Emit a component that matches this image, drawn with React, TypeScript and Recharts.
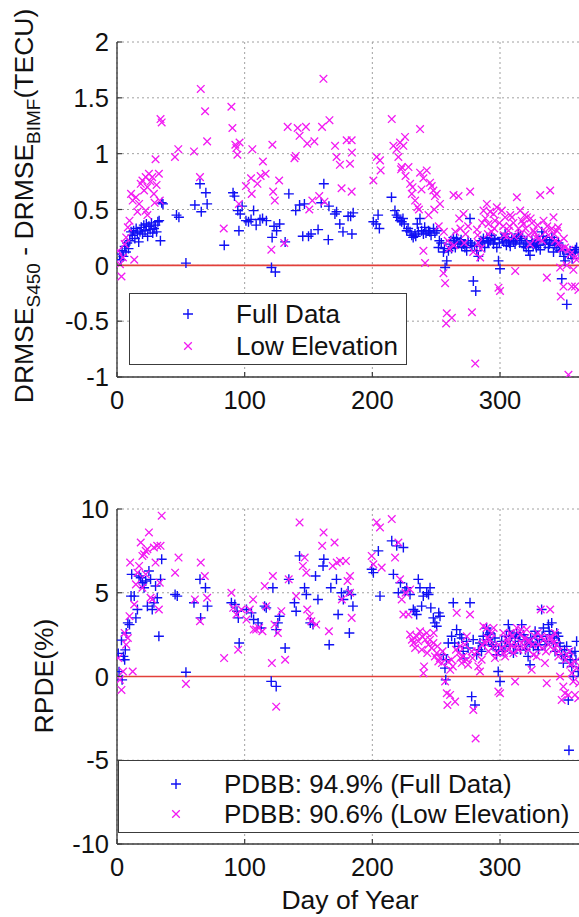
import React from 'react';
import { ScatterChart, Scatter, XAxis, YAxis, CartesianGrid, ReferenceLine, Legend } from 'recharts';

// ---------- data ----------
const dayTicks = [0, 100, 200, 300];
const topYTicks = [-1, -0.5, 0, 0.5, 1, 1.5, 2];
const bottomYTicks = [-10, -5, 0, 5, 10];
const topLegendLabels = ['Full Data', 'Low Elevation'];
const bottomLegendLabels = ['PDBB: 94.9% (Full Data)', 'PDBB: 90.6% (Low Elevation)'];

// [day, DRMSE difference (TECU)]
const topFullData: number[][] = [
  [2,0.10],[3,0.05],[4,0.13],[5,0.08],[6,0.17],[7,0.12],[8,0.2],[9,0.15],[10,0.22],[11,0.3],[12,0.27],[13,0.31],[14,0.24],[15,0.33],[16,0.29],[17,0.21],[18,0.3],[19,0.34],[20,0.28],[21,0.36],[22,0.31],[23,0.37],[24,0.26],[25,0.35],[26,0.32],[27,0.38],[28,0.29],[29,0.33],[30,0.36],[31,0.3],[32,0.39],[33,0.4],[34,0.22],[35,0.56],[36,0.55],
  [46.6,0.45],[48.5,0.43],[54,0.02],[61,0.54],[65,0.73],[66,0.48],[69.6,0.65],[70.6,0.55],[84,0.18],[90.9,0.65],[92,0.62],[94.6,0.49],[95.5,0.31],[98,0.53],[96.5,0.46],[101,0.40],[103,0.39],[105,0.41],[107,0.49],[109,0.36],[112,0.41],[114,0.42],[117,0.40],[121,-0.02],[124,-0.06],[121.5,0.25],[123,0.35],[125,0.31],[127.4,0.37],[131.7,0.21],[134.6,0.64],[140,0.49],[143,0.54],[146.8,0.55],[145.5,0.26],[152,0.28],[150,0.26],[157.5,0.32],[162,0.73],[160,0.56],[166,0.53],[165.5,0.23],[170.7,0.46],[172,0.48],[174.5,0.37],[177,0.30],[181,0.44],[183,0.44],[184,0.28],[185,0.47],
  [200.8,0.39],[203,0.37],[204.5,0.45],[205.5,0.33],[215,0.61],[217.7,0.49],[219,0.45],[220,0.43],[221.7,0.40],[223,0.39],[224,0.42],[225,0.37],[226.9,0.31],[228,0.33],[229.5,0.30],[230.9,0.27],[232,0.25],[233.4,0.28],[234,0.26],[235.2,0.37],[236,0.30],[237.3,0.42],[238.6,0.31],[240,0.28],[241,0.34],[242,0.29],[243.9,0.31],[245,0.30],[246,0.27],[247.9,0.33],[249,0.29],[250.5,0.31],[251.8,0.16],[252.5,0.22],[254,0.2],[255.7,0.12],[256.5,0.15],[257,-0.02],[258.3,0.04],[259.6,0.13],[260.9,0.19],[261.5,0.22],[262,0.15],[263.5,0.25],[264.5,0.2],[265,0.16],[266,0.24],[267,0.19],[268.7,0.21],[269.5,0.23],[270,0.17],[271.3,0.19],[272.5,0.16],[273.9,0.13],[275,0.22],[276.5,0.42],[277,0.2],[278,0.18],[279.1,-0.14],[280,0.17],[281,-0.23],[281.8,0.13],[283,0.08],[284.4,0.19],[285,0.22],[286,0.21],[287,0.24],[288,0.16],[289.7,0.25],[290.5,0.21],[291,0.2],[292.3,0.22],[293.5,0.27],[294.9,0.19],[295.5,0.24],[296,0.23],[297.5,0.16],[298.8,0.04],[299.5,0.2],[300,-0.03],[301.5,0.25],[302,0.23],[303,0.21],[304,0.28],[305,0.18],[306.6,0.22],[307.5,0.2],[308,0.17],[309.2,0.25],[310.5,0.21],[311.8,0.19],[312.5,0.22],[313,0.24],[314.4,0.28],[315.5,0.2],[316,0.26],[317,0.24],[318.5,0.17],[319.7,0.19],[320.5,0.16],[321,0.22],[322.3,0.13],[323.5,0.09],[324.9,0.22],[325.5,0.2],[326,0.17],[327.5,0.19],[328.5,0.16],[329,0.21],[330.1,0.18],[331.5,0.14],[332.7,0.30],[333.5,0.26],[334,0.22],[335.3,0.19],[336.5,0.23],[337.9,0.16],[338.5,0.19],[339,0.2],[340.6,0.25],[341.9,0.12],[342.5,0.22],[343,0.18],[344.5,0.16],[345.8,0.2],[346.5,0.18],[347.1,0.13],[348.4,-0.12],[349,0.14],[350,0.08],[351,0.04],[352.3,-0.35],[353.5,0.1],[354.9,0.13],[355.5,0.1],[356.5,0.06],[358,0.11],[359,0.14],[360,0.16],[362,0.12]
];

const topLowData: number[][] = [
  [1,0.13],[2.3,0.01],[3.5,-0.10],[4.7,0.07],[6,0.19],[7.2,0.25],[8.5,0.34],[9.8,0.40],[11,0.64],[12.3,0.58],[13.5,0.05],[14.8,0.61],[16,0.48],[17.3,0.55],[18.6,0.73],[19.9,0.76],[21.2,0.67],[22.5,0.79],[22.5,0.49],[23.8,0.70],[23.8,0.45],[25,0.82],[26.3,0.75],[27.6,0.79],[28.9,0.64],[29.5,0.56],[30.2,0.95],[31,0.72],[32.8,0.82],[34.1,1.31],[35,1.28],[33.5,0.58],
  [45.4,0.97],[48,1.04],[60.3,1.02],[65,0.79],[65.6,1.58],[69,1.38],[70.6,1.11],[83.6,0.33],[89.6,1.42],[90.4,1.23],[92.7,1.08],[93.5,1.05],[94.3,0.99],[96,1.1],[95.5,0.55],[101,0.71],[105,0.78],[106,1.04],[105.5,0.64],[110,0.73],[112.5,0.8],[114.3,0.93],[116.4,0.82],[120.9,0.14],[121.7,1.08],[122.3,0.66],[123.6,0.58],[127,0.76],[131,0.2],[133.7,1.24],[139,0.96],[140,0.98],[141.5,1.23],[143,1.16],[148,1.24],[149,1.09],[154.6,1.11],[161.7,1.67],[160.6,1.24],[166.4,1.30],[153,0.58],[150.6,0.5],[158.4,0.62],[162.5,0.57],
  [170.8,1.07],[172,0.97],[174.6,0.90],[179.9,1.12],[183.8,1.12],[182.5,0.91],[184,1.01],[175.9,0.69],[183.8,0.66],[200.8,0.76],[203.4,0.97],[206,0.94],[206.5,0.85],[215.2,1.31],[216.5,1.07],[219.1,1.04],[220.4,0.97],[221.7,1.10],[222.5,0.86],[224.3,1.07],[225.6,1.15],[223,0.88],[226,0.8],[228.3,0.88],[229.6,0.73],[230.9,0.64],[231.5,0.7],[233.5,0.58],[235.3,0.52],[236.5,0.5],[237.4,1.22],[237.4,0.83],[238.5,0.68],[240,0.78],[242.6,0.85],[244,0.45],[245.2,0.74],[246.5,0.71],[247.8,0.67],[248.5,0.5],[249,0.62],[250.4,0.64],[252,0.35],[253,0.55],[240,0.13],[241.3,0.02],[255.7,-0.07],[256,0.3],[257,-0.16],[258.3,-0.43],[257.8,-0.52],[259,0.22],[262.3,-0.47],[260,0.15],[263.6,0.63],[264,0.18],[265,0.3],[267.5,0.62],[268,0.42],[269,0.33],[271.4,0.46],[272,0.2],[273,0.28],[275,0.35],[276.6,0.66],[278,-0.42],[279,0.12],[280.6,-0.88],[281.9,0.32],[282.5,0.27],[283,0.2],[284.5,0.07],[285,0.15],[286,0.38],[287.1,0.49],[288.5,0.42],[289.7,0.55],[290.5,0.28],[291,0.37],[292.3,0.48],[293.5,0.3],[294.9,0.46],[295.5,0.33],[296,0.4],[297.5,0.52],[298.8,-0.2],[299.5,0.38],[300,-0.23],[301.4,0.49],[302.5,0.35],[303,0.27],[304,0.43],[305.5,0.26],[306.7,0.31],[307.5,0.35],[308,0.45],[309.3,0.43],[310.5,0.38],[311,0.26],[311.9,-0.05],[313.2,0.61],[314.5,0.33],[315.8,0.49],[316.5,0.28],[317,0.4],[318.4,0.37],[319.5,0.45],[320,0.33],[321,0.43],[322.3,0.27],[323.6,0.19],[324,0.42],[325,0.38],[326.3,0.31],[327,0.29],[328,0.25],[329.5,0.36],[330.5,0.24],[331.5,0.63],[333,0.22],[334.1,0.40],[335.5,0.3],[336.7,-0.11],[337,0.35],[338,0.27],[339.3,0.67],[340.5,0.33],[341.9,0.43],[342.5,0.28],[343.2,0.22],[344.5,0.31],[345.5,0.34],[346,0.2],[347.1,-0.02],[347.6,-0.28],[348.5,0.15],[349.7,-0.19],[350,0.24],[351,0.16],[352.3,0.0],[353.6,-0.98],[354,0.14],[355,0.1],[356.2,-0.19],[357.5,-0.04],[358.8,-0.19],[359.5,0.08],[360,0.05],[361.4,-0.22]
];

// [day, RPDE (%)]
const bottomFullData: number[][] = [
  [1,1.38],[1.6,0.29],[3.5,2.17],[4,-0.2],[5,1.2],[6,1.0],[6.5,1.59],[7.2,2.6],[8.5,3.2],[9.8,3.1],[11,4.8],[11.5,6.1],[13.5,4.8],[14.8,3.5],[16,4.0],[17.3,6.0],[18.6,5.9],[19.9,5.6],[21.2,5.3],[22.5,5.7],[23.8,4.2],[25,6.3],[26.3,5.8],[27.6,4.0],[28.9,4.4],[30.2,5.4],[31.5,4.7],[32.8,2.4],[34.1,5.8],[35,7.0],
  [45.5,4.9],[47.2,4.8],[54,0.25],[60.3,4.4],[65,5.8],[65.5,3.5],[69.3,5.3],[70.9,4.2],[89.6,4.4],[92.3,4.3],[94,3.9],[95,3.5],[95.7,2.0],[101.4,4.0],[105.3,3.8],[107,3.4],[110.5,3.2],[113,2.9],[115.6,4.2],[116.9,4.1],[120.8,-0.29],[124.7,-0.59],[122.1,5.3],[124.7,2.8],[126,3.2],[127.3,3.6],[131.7,1.7],[134.6,5.8],[139,4.4],[140.3,3.9],[143,7.2],[146.9,5.3],[148.3,4.9],[151.4,3.2],[153.5,3.1],[157.4,4.6],[155.5,6.0],[161.4,6.6],[162,7.0],[166.2,1.9],[167.5,5.3],[171.9,5.8],[173.2,3.7],[175.8,5.0],[177.3,4.6],[181,5.1],[182,2.6],[183.5,4.9],[184.8,4.2],
  [199.5,6.4],[200.8,6.2],[204.7,7.5],[206,4.8],[215.2,8.1],[216.5,6.1],[219.1,7.8],[220.4,5.0],[222,5.6],[224.3,7.7],[225.6,5.1],[226.9,5.3],[229.5,4.9],[232.1,4.0],[233.4,3.9],[234.7,3.7],[236,5.8],[237.3,5.3],[238.6,4.2],[239.9,4.8],[242.6,5.0],[244,4.9],[245.2,5.3],[245.8,4.1],[247.8,3.5],[249,3.2],[250.4,3.0],[252,3.8],[253,3.6],[255.6,1.3],[256.9,0.5],[257.5,-0.2],[258,1.0],[259.5,2.0],[262.1,2.4],[263.4,4.4],[264.5,2.0],[266,2.8],[267.5,1.8],[268.6,2.5],[270,2.3],[271.2,1.5],[272,1.1],[273.8,2.1],[275,1.7],[276.5,4.4],[277.8,-1.2],[279,2.2],[280.4,-1.7],[281.7,1.3],[283,1.6],[284.3,2.0],[285.5,1.5],[286.9,2.4],[288,1.9],[289.5,2.9],[290.5,2.5],[291,2.2],[292.1,2.6],[293.5,1.9],[294.7,1.8],[296,2.3],[297.3,1.3],[298.6,0.3],[299,1.6],[300,-0.3],[301.3,2.1],[302.5,1.5],[303.9,1.8],[304.5,2.1],[305,2.4],[306.5,3.1],[307.5,2.7],[308,1.9],[309.1,2.4],[310.5,1.4],[311.8,1.8],[312,2.3],[313,2.6],[314.4,2.1],[315.5,2.5],[316,1.6],[317,3.1],[318.5,2.5],[319.6,2.2],[320,1.6],[321,1.9],[322,1.2],[323.5,0.7],[324,2.3],[325,2.0],[326.1,1.8],[327.5,2.7],[328.7,2.4],[329.5,1.9],[330,1.6],[331,2.2],[332.6,4.0],[333,2.4],[334,2.9],[335.3,1.9],[336.6,2.1],[337.9,3.1],[338.5,2.7],[339,2.5],[340.5,3.2],[341.8,2.0],[342.5,2.3],[343.1,1.5],[344.4,2.6],[345.7,2.4],[346.5,2.0],[347,1.8],[348.3,1.3],[349.6,0.8],[350.5,1.6],[351,1.2],[352.2,1.8],[353.5,-1.4],[354,-4.4],[355,1.0],[356,1.4],[356.2,0.6],[357.4,0.0],[358.7,1.5],[359.5,1.0],[360,2.1],[361.3,0.3]
];

const bottomLowData: number[][] = [
  [1,1.1],[2.3,-0.2],[3.5,-0.8],[4.7,0.3],[6,2.6],[7.2,1.9],[8.5,2.3],[9.8,3.6],[10.3,6.8],[12.3,0.3],[13.5,4.3],[14.8,5.5],[16,6.2],[17.3,6.6],[18.6,8.0],[19.9,7.2],[19.9,5.3],[21.2,7.3],[22.5,7.5],[22.5,6.1],[23.8,7.6],[25,8.6],[26.3,4.7],[27.6,4.6],[28.9,7.7],[30.2,6.8],[31.5,7.8],[32.8,4.0],[33.5,5.6],[34.1,7.8],[35,9.6],
  [45.5,6.2],[48.2,7.1],[54,-0.44],[61,4.6],[65,3.3],[65.6,6.8],[68.8,6.0],[70.6,4.7],[83.9,1.1],[89.6,5.0],[91,4.1],[93.5,3.7],[94.9,1.6],[97.5,4.0],[101.4,3.4],[104,4.0],[106.6,4.6],[107.1,2.8],[109,2.8],[111.3,2.9],[113.9,2.7],[115.7,5.4],[117,4.2],[121.3,0.8],[122.1,6.0],[123.4,3.1],[124.7,-1.8],[126,2.6],[128.7,3.9],[131.7,1.0],[134.5,5.8],[140.3,4.8],[143,9.2],[145.6,6.6],[147,7.1],[148.3,6.2],[149,4.0],[150.9,3.6],[152.2,3.3],[156,3.1],[160.7,7.8],[161.8,8.6],[166,2.7],[170.4,8.0],[169,6.6],[172.1,6.8],[174.7,6.9],[176.1,4.6],[179.3,6.9],[180.6,5.7],[182.5,6.0],[183.8,3.5],[182.5,5.0],
  [199.5,7.2],[200.8,6.7],[203.4,9.2],[206,8.9],[207.3,6.5],[215.2,9.4],[217.8,7.1],[220.4,8.0],[221.7,5.8],[223,4.6],[224.3,3.7],[226,5.0],[228.3,3.7],[229.6,5.2],[229.6,2.5],[231,2.2],[232.2,2.0],[233.5,1.7],[234.8,2.4],[236,2.1],[237.4,2.7],[238.7,1.6],[239,2.4],[240,0.2],[240.5,0.6],[241.5,2.2],[242.6,2.6],[243,1.4],[244,1.9],[245.2,2.2],[246.5,1.7],[247.8,2.0],[248,2.6],[249,1.2],[250.4,1.4],[251,1.8],[251.7,0.9],[253,1.1],[254.5,0.8],[255,1.5],[257,-0.3],[258.3,-1.0],[258.8,-1.7],[259.5,0.9],[260.9,-1.1],[261,0.4],[262,1.0],[263,0.6],[264.8,-1.5],[265.5,1.6],[266.1,3.8],[267.5,1.4],[268.7,1.8],[269,1.1],[270,0.8],[271.3,1.2],[272.5,1.9],[273.9,1.0],[274,2.4],[275,0.7],[276.5,3.7],[277.8,1.5],[278.5,1.1],[279.1,-2.0],[280.9,-3.7],[282,1.5],[283,0.6],[284.3,0.3],[285.6,1.0],[286,1.9],[287,3.0],[288.3,2.0],[289.6,2.9],[290,2.3],[291,1.5],[292.2,2.2],[293.5,2.6],[294.8,1.8],[295,2.9],[296,1.1],[297.4,1.4],[298.7,-0.9],[299,1.9],[300,-1.0],[301.3,1.7],[302.6,2.6],[303,1.4],[304,1.2],[305.3,2.2],[306,2.0],[306.5,1.6],[307.9,2.6],[309,1.9],[309.5,2.4],[310.5,1.4],[311.8,-0.3],[312.5,1.9],[313.1,2.9],[314.4,1.6],[315.7,2.5],[316.5,2.8],[317,2.0],[318.3,1.7],[319.6,2.3],[320.9,2.8],[321.5,2.1],[322.2,1.6],[323.5,2.1],[324.8,0.4],[325.5,1.9],[326.1,1.3],[327.4,2.4],[328.7,1.2],[329.5,2.6],[330,1.9],[331.9,4.0],[332.5,2.4],[333,1.7],[334.2,2.2],[335.2,0.8],[336,1.5],[336.6,-0.4],[337.9,1.9],[338.5,2.3],[339.3,4.0],[340.5,2.3],[341.8,1.6],[342,2.0],[343,2.6],[344.4,1.9],[345.7,1.2],[346,1.5],[347,0],[348.3,-1.4],[349.6,-0.6],[350.9,-1.0],[351.5,1.0],[352.2,1.3],[353.5,-1.1],[354.5,1.5],[355,0.7],[356.2,0.2],[357.4,-0.3],[358.7,-1.1],[359,0.9],[360,0.5],[361.3,-1.3],[362,-0.4]
];

// ---------- styling ----------
const FONT = '"Liberation Sans", Arial, Helvetica, sans-serif';
const BLUE = '#1010f4';
const MAGENTA = '#f21af2';
const RED = '#e2403a';
const AXIS = '#3c3c3c';
const GRID = '#a0a0a0';
const TEXT = '#111111';

const toPts = (arr: number[][]) => arr.map(([day, v]) => ({ day, v }));

const PlusShape = (props: any) => {
  const { cx, cy } = props;
  if (cx == null || cy == null) return null;
  const r = 5;
  return <path d={`M${cx - r},${cy}H${cx + r}M${cx},${cy - r}V${cy + r}`} stroke={BLUE} strokeWidth={1.4} fill="none" />;
};
const CrossShape = (props: any) => {
  const { cx, cy } = props;
  if (cx == null || cy == null) return null;
  const r = 3.8;
  return <path d={`M${cx - r},${cy - r}L${cx + r},${cy + r}M${cx - r},${cy + r}L${cx + r},${cy - r}`} stroke={MAGENTA} strokeWidth={1.3} fill="none" />;
};

const YTick = (props: any) => {
  const { x, y, payload } = props;
  return (
    <g>
      <line x1={x} x2={x + 5} y1={y} y2={y} stroke={AXIS} strokeWidth={1.2} />
      <text x={x - 8} y={y} dy="0.36em" textAnchor="end" fontSize={25.5} fontFamily={FONT} fill={TEXT}>{String(payload.value)}</text>
    </g>
  );
};
const XTickBottom = (props: any) => {
  const { x, y, payload } = props;
  return (
    <g>
      <line x1={x} x2={x} y1={y} y2={y - 5} stroke={AXIS} strokeWidth={1.2} />
      <text x={x} y={y + 32} textAnchor="middle" fontSize={25.5} fontFamily={FONT} fill={TEXT}>{String(payload.value)}</text>
    </g>
  );
};
const XTickTop = (props: any) => {
  const { x, y } = props;
  return <line x1={x} x2={x} y1={y} y2={y + 5} stroke={AXIS} strokeWidth={1.2} />;
};

const LegendBox = ({ labels, width, height, markerX, textX, rowY }: any) => (
  <div style={{ width, height, boxSizing: 'border-box', border: `1.4px solid ${AXIS}`, background: '#fff', position: 'relative', fontFamily: FONT, fontSize: 26, color: TEXT }}>
    {labels.map((lab: string, i: number) => (
      <div key={lab} style={{ position: 'absolute', left: 0, top: rowY[i] - 15, height: 30, width: '100%' }}>
        <svg width={20} height={30} style={{ position: 'absolute', left: markerX - 10, top: 0 }}>
          {i === 0 ? <PlusShape cx={10} cy={15} /> : <CrossShape cx={10} cy={15} />}
        </svg>
        <span style={{ position: 'absolute', left: textX, top: 0, lineHeight: '30px', whiteSpace: 'nowrap' }}>{lab}</span>
      </div>
    ))}
  </div>
);

const TopYLabel = () => (
  <text x={33} y={206} transform="rotate(-90, 33, 206)" textAnchor="middle" fontSize={26.5} fontFamily={FONT} fill={TEXT} style={{ whiteSpace: 'pre' }}>
    DRMSE<tspan fontSize={19} dy={7}>S450</tspan><tspan dy={-7}> - DRMSE</tspan><tspan fontSize={19} dy={7}>BIMF</tspan><tspan dy={-7}>(TECU)</tspan>
  </text>
);
const BottomYLabel = () => (
  <text x={53} y={216} transform="rotate(-90, 53, 216)" textAnchor="middle" fontSize={26.5} fontFamily={FONT} fill={TEXT}>RPDE(%)</text>
);
const BottomXLabel = () => (
  <text x={350} y={449} textAnchor="middle" fontSize={26.5} fontFamily={FONT} fill={TEXT}>Day of Year</text>
);

export default function App() {
  const topFull = toPts(topFullData);
  const topLow = toPts(topLowData);
  const botFull = toPts(bottomFullData);
  const botLow = toPts(bottomLowData);
  return (
    <div style={{ position: 'absolute', left: 0, top: 0, width: 579, height: 917, overflow: 'hidden', background: '#fff' }}>
      <div style={{ position: 'absolute', left: 0, top: 0 }}>
        <ScatterChart width={600} height={460} margin={{ top: 42, right: 17, bottom: 0, left: 0 }}>
          <CartesianGrid stroke={GRID} strokeDasharray="2 3" strokeWidth={1} />
          <XAxis type="number" dataKey="day" domain={[0, 365]} ticks={dayTicks} allowDataOverflow height={83}
            axisLine={{ stroke: AXIS, strokeWidth: 1.4 }} tickLine={false} tickSize={0} tickMargin={0} tick={<XTickBottom />} interval={0} />
          <XAxis xAxisId="top" orientation="top" type="number" domain={[0, 365]} ticks={dayTicks} allowDataOverflow height={0}
            axisLine={{ stroke: AXIS, strokeWidth: 1.4 }} tickLine={false} tickSize={0} tickMargin={0} tick={<XTickTop />} interval={0} />
          <YAxis type="number" dataKey="v" domain={[-1, 2]} ticks={topYTicks} allowDataOverflow width={117}
            axisLine={{ stroke: AXIS, strokeWidth: 1.4 }} tickLine={false} tickSize={0} tickMargin={0} tick={<YTick />} interval={0}
            label={{ content: () => <TopYLabel /> }} />
          <ReferenceLine y={0} stroke={RED} strokeWidth={1.6} />
          <Scatter name="Full Data" data={topFull} shape={(p: any) => <PlusShape {...p} />} isAnimationActive={false} />
          <Scatter name="Low Elevation" data={topLow} shape={(p: any) => <CrossShape {...p} />} isAnimationActive={false} />
          <Legend layout="vertical" align="center" verticalAlign="middle"
            wrapperStyle={{ left: 129, top: 293, width: 278, height: 72 }}
            content={() => <LegendBox labels={topLegendLabels} width={278} height={72} markerX={58} textX={106} rowY={[20, 52]} />} />
        </ScatterChart>
      </div>
      <div style={{ position: 'absolute', left: 0, top: 460 }}>
        <ScatterChart width={600} height={457} margin={{ top: 49, right: 17, bottom: 0, left: 0 }}>
          <CartesianGrid stroke={GRID} strokeDasharray="2 3" strokeWidth={1} />
          <XAxis type="number" dataKey="day" domain={[0, 365]} ticks={dayTicks} allowDataOverflow height={73}
            axisLine={{ stroke: AXIS, strokeWidth: 1.4 }} tickLine={false} tickSize={0} tickMargin={0} tick={<XTickBottom />} interval={0}
            label={{ content: () => <BottomXLabel /> }} />
          <XAxis xAxisId="top" orientation="top" type="number" domain={[0, 365]} ticks={dayTicks} allowDataOverflow height={0}
            axisLine={{ stroke: AXIS, strokeWidth: 1.4 }} tickLine={false} tickSize={0} tickMargin={0} tick={<XTickTop />} interval={0} />
          <YAxis type="number" dataKey="v" domain={[-10, 10]} ticks={bottomYTicks} allowDataOverflow width={117}
            axisLine={{ stroke: AXIS, strokeWidth: 1.4 }} tickLine={false} tickSize={0} tickMargin={0} tick={<YTick />} interval={0}
            label={{ content: () => <BottomYLabel /> }} />
          <ReferenceLine y={0} stroke={RED} strokeWidth={1.6} />
          <Scatter name="Full Data" data={botFull} shape={(p: any) => <PlusShape {...p} />} isAnimationActive={false} />
          <Scatter name="Low Elevation" data={botLow} shape={(p: any) => <CrossShape {...p} />} isAnimationActive={false} />
          <Legend layout="vertical" align="center" verticalAlign="middle"
            wrapperStyle={{ left: 118, top: 300, width: 480, height: 73 }}
            content={() => <LegendBox labels={bottomLegendLabels} width={480} height={73} markerX={57} textX={105} rowY={[23, 53]} />} />
        </ScatterChart>
      </div>
    </div>
  );
}
